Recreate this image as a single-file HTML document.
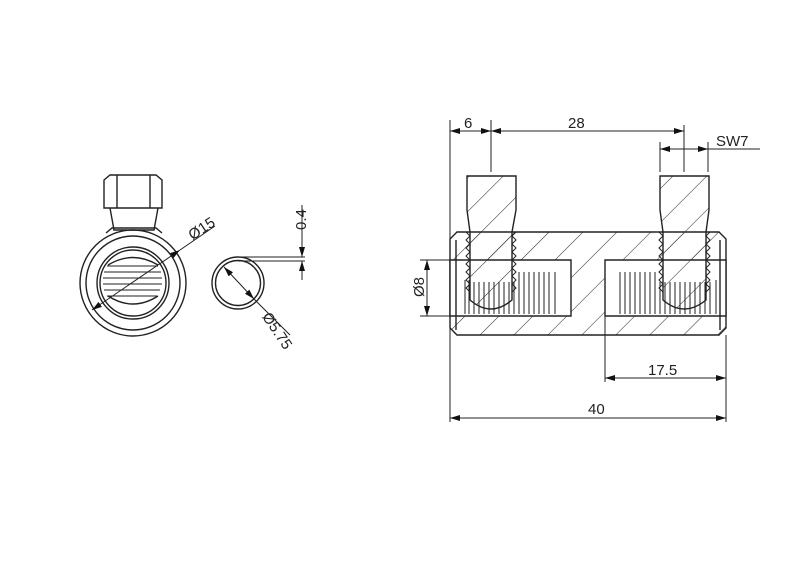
<!DOCTYPE html>
<html><head><style>body{margin:0;background:#fff}svg{display:block}</style></head><body>
<svg width="800" height="567" viewBox="0 0 800 567" xmlns="http://www.w3.org/2000/svg" font-family="Liberation Sans, sans-serif">
<defs>
<marker id="a" viewBox="0 0 10 6" refX="10" refY="3" markerWidth="10" markerHeight="6" orient="auto-start-reverse" markerUnits="userSpaceOnUse"><path d="M0,0L10,3L0,6z" fill="#111"/></marker>
<pattern id="h" width="24" height="24" patternUnits="userSpaceOnUse" patternTransform="rotate(45)"><line x1="0" y1="0" x2="0" y2="24" stroke="#333" stroke-width="1.1"/></pattern>
</defs>
<g stroke="#222" fill="none" stroke-width="1.4">
<!-- left view -->
<path d="M104,180 L110,175 L156,175 L162,180 L162,208 L104,208 Z" fill="#fff"/>
<line x1="117" y1="175" x2="117" y2="208"/><line x1="150" y1="175" x2="150" y2="208"/>
<path d="M110,208 L114,230 L154,230 L158,208"/>
<path d="M106,233 L112,228 L156,228 L162,233"/>
<circle cx="133" cy="283" r="53"/><circle cx="133" cy="283" r="47"/>
<circle cx="133" cy="283" r="36"/><circle cx="133" cy="283" r="33"/>
<path d="M108,265 Q133,250 158,265" />
<g stroke-width="1.1">
<path d="M107,266 H158 M104,272 H161 M103,278 H162 M103,284 H162 M104,290 H160 M107,296 H157"/>
</g>
<path d="M108,296 Q133,312 158,296"/>
<line x1="92" y1="310" x2="180" y2="250" stroke-width="1" marker-start="url(#a)" marker-end="url(#a)"/>
<line x1="180" y1="250" x2="215" y2="226" stroke-width="1"/>
<text x="190" y="240" font-size="15" fill="#222" stroke="none" transform="rotate(-33 192 236)">Ø15</text>
<circle cx="238" cy="283" r="26"/><circle cx="238" cy="283" r="22.5"/>
<line x1="224" y1="267" x2="254" y2="299" stroke-width="1" marker-start="url(#a)" marker-end="url(#a)"/>
<line x1="254" y1="299" x2="290" y2="335" stroke-width="1"/>
<text x="262" y="320" font-size="15" fill="#222" stroke="none" transform="rotate(56 265 318)">Ø5.75</text>
<line x1="238" y1="257" x2="305" y2="257" stroke-width="0.9"/><line x1="238" y1="261" x2="305" y2="261" stroke-width="0.9"/>
<line x1="302" y1="205" x2="302" y2="257" stroke-width="1" marker-end="url(#a)"/>
<line x1="302" y1="280" x2="302" y2="261" stroke-width="1" marker-end="url(#a)"/>
<text x="298" y="238" font-size="15" fill="#222" stroke="none" transform="rotate(-90 298 230)">0.4</text>
<!-- right view body -->
<path d="M457,232 H719 L726,239 V328 L719,335 H457 L450,328 V239 Z" fill="url(#h)"/>
<path d="M450,260 H571 V316 H450 Z M605,260 H726 V316 H605 Z" fill="#fff"/>
<line x1="456" y1="240" x2="456" y2="330"/><line x1="720" y1="240" x2="720" y2="330"/>
<path d="M467,176 H516 V210 L512,232 V300 Q491,318 470,300 V232 L467,210 Z" fill="url(#h)"/>
<path d="M660,176 H709 V210 L706,232 V300 Q684,318 663,300 V232 L660,210 Z" fill="url(#h)"/>
<g stroke-width="1">
<path d="M465,280 V314 M469,280 V314 M474,282 V314 M479,282 V314 M484,282 V314 M489,282 V314 M494,282 V314 M499,282 V314 M504,282 V314 M509,282 V314 M514,282 V314 M519,272 V314 M524,272 V314 M529,272 V314 M534,272 V314 M539,272 V314 M544,272 V314 M549,272 V314 M555,272 V314"/>
<path d="M620,272 V314 M625,272 V314 M630,272 V314 M635,272 V314 M640,272 V314 M645,272 V314 M650,272 V314 M655,272 V314 M660,282 V314 M665,282 V314 M670,282 V314 M675,282 V314 M680,282 V314 M685,282 V314 M690,282 V314 M695,282 V314 M700,282 V314 M705,282 V314 M710,282 V314 M716,280 V314"/>
<path d="M466,232 l4,4 -4,4 4,4 -4,4 4,4 -4,4 4,4 -4,4 4,4 -4,4 4,4 -4,4 4,4 -4,4 4,4"/>
<path d="M516,232 l-4,4 4,4 -4,4 4,4 -4,4 4,4 -4,4 4,4 -4,4 4,4 -4,4 4,4 -4,4 4,4 -4,4"/>
<path d="M659,232 l4,4 -4,4 4,4 -4,4 4,4 -4,4 4,4 -4,4 4,4 -4,4 4,4 -4,4 4,4 -4,4 4,4"/>
<path d="M710,232 l-4,4 4,4 -4,4 4,4 -4,4 4,4 -4,4 4,4 -4,4 4,4 -4,4 4,4 -4,4 4,4 -4,4"/>
</g>
<!-- dimensions -->
<g stroke-width="1">
<line x1="450" y1="120" x2="450" y2="422"/>
<line x1="491" y1="120" x2="491" y2="172"/>
<line x1="684" y1="125" x2="684" y2="172"/>
<line x1="660" y1="142" x2="660" y2="172"/>
<line x1="708" y1="142" x2="708" y2="172"/>
<line x1="726" y1="335" x2="726" y2="422"/>
<line x1="605" y1="316" x2="605" y2="382"/>
<line x1="450" y1="131" x2="491" y2="131" marker-start="url(#a)" marker-end="url(#a)"/>
<line x1="491" y1="131" x2="684" y2="131" marker-start="url(#a)" marker-end="url(#a)"/>
<line x1="660" y1="149" x2="708" y2="149" marker-start="url(#a)" marker-end="url(#a)"/>
<line x1="708" y1="149" x2="760" y2="149"/>
<line x1="605" y1="378" x2="726" y2="378" marker-start="url(#a)" marker-end="url(#a)"/>
<line x1="450" y1="418" x2="726" y2="418" marker-start="url(#a)" marker-end="url(#a)"/>
<line x1="420" y1="260" x2="450" y2="260"/><line x1="420" y1="316" x2="450" y2="316"/>
<line x1="427" y1="260" x2="427" y2="316" marker-start="url(#a)" marker-end="url(#a)"/>
</g>
</g>
<g font-size="15" fill="#222">
<text x="464" y="128">6</text>
<text x="568" y="128">28</text>
<text x="716" y="146">SW7</text>
<text x="648" y="375">17.5</text>
<text x="588" y="414">40</text>
<text x="0" y="0" transform="translate(424,297) rotate(-90)">Ø8</text>
</g>
</svg>
</body></html>
